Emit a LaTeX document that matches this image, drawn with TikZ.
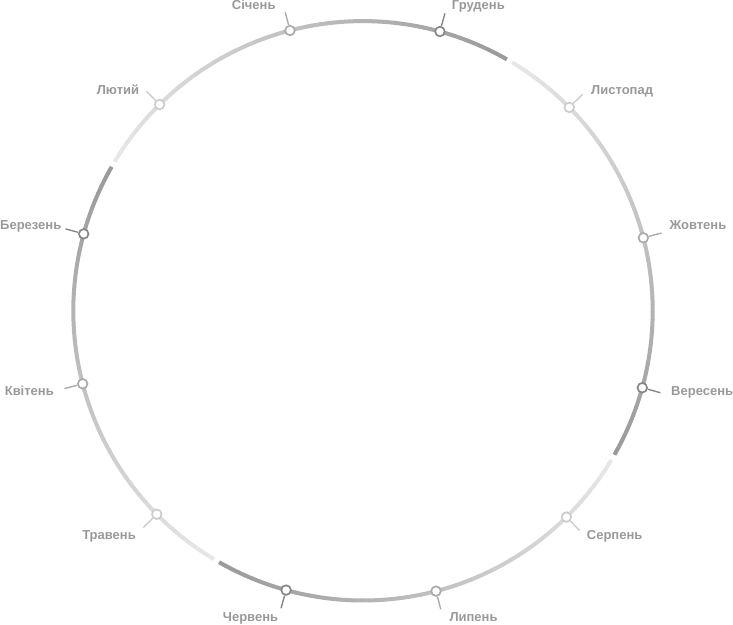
\documentclass[tikz,border=0pt]{standalone}
\usepackage{fontspec}
\setmainfont{Liberation Sans}
\usetikzlibrary{calc}
\tikzset{
  arcline/.style={line width=4pt, line cap=butt},
  monthdot/.style={circle, minimum size=9.6pt, inner sep=0pt, line width=1.7pt, fill=white},
  ticklink/.style={line width=1.4pt},
  monthlabel/.style={inner sep=0pt, text=black!40, font=\fontsize{13pt}{15pt}\selectfont\bfseries},
}
\begin{document}
\begin{tikzpicture}[x=1pt,y=1pt]
\useasboundingbox (0,0) rectangle (733,624);
\coordinate (c) at (363,313.2);
\def\rot{-0.4}
% gradient arcs (four segments, light to dark clockwise)
\foreach \s in {150,60,-30,-120}{
  \foreach \i in {0,...,59}{
    \pgfmathsetmacro\aa{\s+\rot-0.6-\i*1.48}
    \pgfmathsetmacro\bb{max(\aa-1.48-0.1,\s+\rot-89.4)}
    \pgfmathsetmacro\pp{9+31*(\i+0.5)/60}
    \draw[arcline,draw=black!\pp] ($(c)+(\aa:289.7)$) arc[start angle=\aa,end angle=\bb,radius=289.7];
  }
}
% months
\foreach \a/\n/\t/\anc/\lx/\ly/\p in {
  75/dec/Грудень/base west/451.7/614.5/47,
  105/jan/Січень/base east/275.7/614.5/33,
  135/feb/Лютий/base east/139.3/529.5/20,
  45/nov/Листопад/base west/591/529.5/20,
  15/oct/Жовтень/base west/669.3/394/33,
  165/mar/Березень/base east/61.5/394/47,
  -15/sep/Вересень/base west/671/228.5/47,
  195/apr/Квітень/base east/54/228.5/33,
  -45/aug/Серпень/base west/586.7/84.5/20,
  225/may/Травень/base east/136/84.5/20,
  -75/jul/Липень/base west/449.3/3/33,
  255/jun/Червень/base east/278.3/3/47}{
  \pgfmathsetmacro\ang{\a+\rot}
  \node[monthdot,draw=black!\p] (\n) at ($(c)+(\ang:289.7)$) {};
  \coordinate (\n-t) at ($(c)+(\ang:308.5)$);
  \draw[ticklink,draw=black!\p] (\n) -- (\n-t);
  \node[monthlabel,anchor=\anc] (\n-l) at (\lx,\ly) {\t};
}
\end{tikzpicture}
\end{document}
